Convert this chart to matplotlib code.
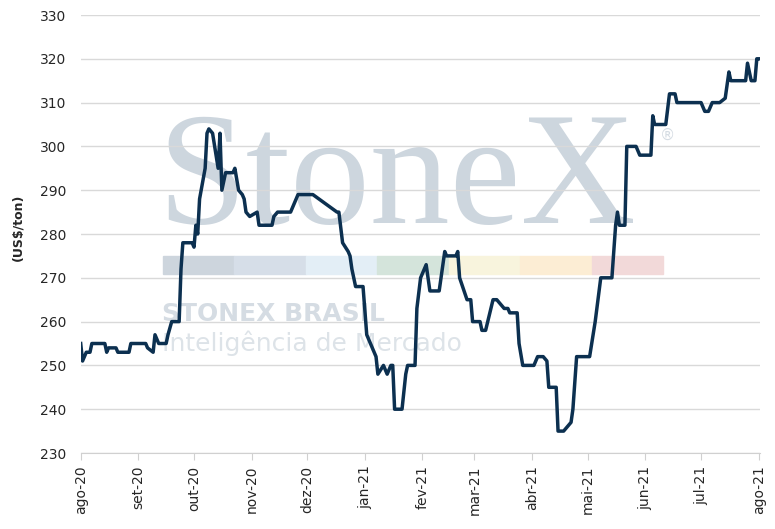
import numpy as np
import pandas as pd
import matplotlib
matplotlib.use('Agg')
import matplotlib.pyplot as plt
import matplotlib.dates as mdates
from matplotlib.patches import Rectangle

# breakpoints of the price series (US$/ton)
datas = ['2020-08-01', '2020-08-02', '2020-08-04', '2020-08-06', '2020-08-07', '2020-08-14',
         '2020-08-15', '2020-08-16', '2020-08-20', '2020-08-21', '2020-08-27', '2020-08-28',
         '2020-09-05', '2020-09-06', '2020-09-09', '2020-09-10', '2020-09-12', '2020-09-16',
         '2020-09-17', '2020-09-19', '2020-09-23', '2020-09-24', '2020-09-25', '2020-09-30',
         '2020-10-01', '2020-10-02', '2020-10-03', '2020-10-04', '2020-10-07', '2020-10-08',
         '2020-10-09', '2020-10-11', '2020-10-14', '2020-10-15', '2020-10-16', '2020-10-18',
         '2020-10-22', '2020-10-23', '2020-10-25', '2020-10-27', '2020-10-28', '2020-10-29',
         '2020-10-31', '2020-11-04', '2020-11-05', '2020-11-12', '2020-11-13', '2020-11-15',
         '2020-11-22', '2020-11-26', '2020-12-04', '2020-12-17', '2020-12-18', '2020-12-20',
         '2020-12-23', '2020-12-24', '2020-12-25', '2020-12-27', '2020-12-31', '2021-01-02',
         '2021-01-06', '2021-01-07', '2021-01-08', '2021-01-11', '2021-01-13', '2021-01-15',
         '2021-01-16', '2021-01-17', '2021-01-21', '2021-01-23', '2021-01-24', '2021-01-28',
         '2021-01-29', '2021-01-31', '2021-02-03', '2021-02-05', '2021-02-10', '2021-02-13',
         '2021-02-14', '2021-02-19', '2021-02-20', '2021-02-21', '2021-02-25', '2021-02-27',
         '2021-02-28', '2021-03-04', '2021-03-05', '2021-03-07', '2021-03-11', '2021-03-13',
         '2021-03-15', '2021-03-17', '2021-03-19', '2021-03-20', '2021-03-24', '2021-03-25',
         '2021-03-27', '2021-04-02', '2021-04-04', '2021-04-07', '2021-04-09', '2021-04-10',
         '2021-04-14', '2021-04-15', '2021-04-18', '2021-04-20', '2021-04-22', '2021-04-23',
         '2021-04-25', '2021-05-02', '2021-05-05', '2021-05-08', '2021-05-14', '2021-05-16',
         '2021-05-17', '2021-05-18', '2021-05-21', '2021-05-22', '2021-05-27', '2021-05-29',
         '2021-06-04', '2021-06-05', '2021-06-06', '2021-06-12', '2021-06-14', '2021-06-17',
         '2021-06-18', '2021-07-01', '2021-07-03', '2021-07-05', '2021-07-07', '2021-07-11',
         '2021-07-14', '2021-07-16', '2021-07-17', '2021-07-25', '2021-07-26', '2021-07-28',
         '2021-07-30', '2021-07-31', '2021-08-01']
precos = [255, 251, 253, 253, 255, 255,
          253, 254, 254, 253, 253, 255,
          255, 254, 253, 257, 255, 255,
          257, 260, 260, 272, 278, 278,
          277, 282, 280, 288, 295, 303,
          304, 303, 295, 303, 290, 294,
          294, 295, 290, 289, 288, 285,
          284, 285, 282, 282, 284, 285,
          285, 289, 289, 285, 285, 278,
          276, 275, 272, 268, 268, 257,
          253, 252, 248, 250, 248, 250,
          250, 240, 240, 248, 250, 250,
          263, 270, 273, 267, 267, 276,
          275, 275, 276, 270, 265, 265,
          260, 260, 258, 258, 265, 265,
          264, 263, 263, 262, 262, 255,
          250, 250, 252, 252, 251, 245,
          245, 235, 235, 236, 237, 240,
          252, 252, 260, 270, 270, 282,
          285, 282, 282, 300, 300, 298,
          298, 307, 305, 305, 312, 312,
          310, 310, 308, 308, 310, 310,
          311, 317, 315, 315, 319, 315,
          315, 320, 320]

meses = ['ago-20', 'set-20', 'out-20', 'nov-20', 'dez-20', 'jan-21', 'fev-21',
         'mar-21', 'abr-21', 'mai-21', 'jun-21', 'jul-21', 'ago-21']
yticks = [230, 240, 250, 260, 270, 280, 290, 300, 310, 320, 330]

# watermark bar colours
faixa = ['#cdd5dd', '#d6dee8', '#e3eef6', '#d4e4db', '#f8f4dd', '#fcedd4', '#f2d9d9']

x = pd.to_datetime(datas)
mes_pos = pd.date_range('2020-08-01', '2021-08-01', freq='MS')

fig = plt.figure(figsize=(7.75, 5.29), dpi=100)
ax = fig.add_axes([80.7/775, 1-453/529, (760.5-80.7)/775, (453-15)/529])

# watermark (figure coords), drawn under the axes
wm = dict(ha='left', va='baseline', zorder=-5)
fig.text(157/775, 1-223/529, 'StoneX', family='Liberation Serif', fontsize=115,
         color='#cdd6de', **wm)
fig.text(660/775, 1-140/529, '®', family='DejaVu Sans', fontsize=11, color='#d5dce3', **wm)
for i, c in enumerate(faixa):
    fig.patches.append(Rectangle(((162.7+i*71.5)/775, 1-274/529), 71.5/775, 18/529,
                                 transform=fig.transFigure, color=c, zorder=-5))
fig.text(162/775, 1-320.7/529, 'STONEX BRASIL', family='DejaVu Sans', weight='bold',
         fontsize=18, color='#d5dce3', **wm)
fig.text(162/775, 1-350.7/529, 'Inteligência de Mercado', family='DejaVu Sans',
         fontsize=18, color='#dde3e8', **wm)

ax.set_facecolor('none')
ax.plot(x, precos, color='#0c3050', lw=2.5, solid_joinstyle='round', zorder=3)

ax.set_ylim(230, 330)
ax.set_xlim(pd.Timestamp('2020-08-01'), pd.Timestamp('2021-08-02'))
ax.set_yticks(yticks)
ax.set_xticks(mes_pos)
ax.set_xticklabels(meses, rotation=90)
ax.grid(axis='y', color='#d9d9d9', lw=1)
ax.set_axisbelow(True)
for s in ['top', 'right', 'left']:
    ax.spines[s].set_visible(False)
ax.spines['bottom'].set_color('#d0d0d0')
ax.tick_params(axis='y', length=0, pad=10.5, labelsize=10, labelcolor='#262626')
ax.tick_params(axis='x', length=5, color='#d0d0d0', pad=4, labelsize=10, labelcolor='#262626')

fig.text(18/775, 1-227/529, '(US$/ton)', rotation=90, fontsize=9, weight='bold',
         color='#262626', ha='center', va='center')

plt.savefig('out.png', dpi=100)
